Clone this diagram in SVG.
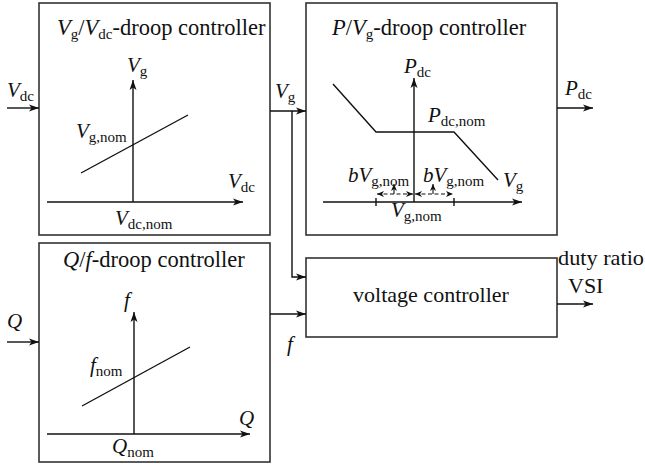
<svg xmlns="http://www.w3.org/2000/svg" width="645" height="468" viewBox="0 0 645 468">
<defs>
<style>
.box{fill:#fff;stroke:#333;stroke-width:1.6}
.ln{fill:none;stroke:#111;stroke-width:1.4}
.ax{fill:none;stroke:#111;stroke-width:1.4;marker-end:url(#arr)}
.da{fill:none;stroke:#111;stroke-width:1.2;stroke-dasharray:4 2.5;marker-end:url(#sa);marker-start:url(#sa)}
.ua{fill:none;stroke:#111;stroke-width:1.1;marker-end:url(#sa)}
text,tspan{font-family:"Liberation Serif","DejaVu Serif",serif;fill:#111}
.m{font-size:21px}
.i{font-style:italic}
.s{font-size:15px}
.tt{font-size:22.5px}
.vc{font-size:22px}
</style>
<marker id="arr" markerUnits="userSpaceOnUse" markerWidth="10" markerHeight="8" refX="10" refY="4" orient="auto-start-reverse">
<path d="M0,0.5 L10,4 L0,7.5 L2.5,4 z" fill="#111"/>
</marker>
<marker id="sa" markerUnits="userSpaceOnUse" markerWidth="7" markerHeight="6" refX="7" refY="3" orient="auto-start-reverse">
<path d="M0,0 L7,3 L0,6 L2,3 z" fill="#111"/>
</marker>
</defs>

<g id="node-vg-vdc">
<rect class="box" x="39" y="3" width="231" height="232"/>
<text class="tt" x="57" y="35"><tspan class="i">V</tspan><tspan class="s" dy="4">g</tspan><tspan dy="-4">/</tspan><tspan class="i">V</tspan><tspan class="s" dy="4">dc</tspan><tspan dy="-4">-droop controller</tspan></text>
<line class="ax" x1="133" y1="202" x2="133" y2="80"/>
<line class="ax" x1="47" y1="202" x2="243" y2="202"/>
<line class="ln" x1="81" y1="173" x2="188" y2="115"/>
<text class="m" x="127" y="72"><tspan class="i">V</tspan><tspan class="s" dy="4">g</tspan></text>
<text class="m" x="76" y="138"><tspan class="i">V</tspan><tspan class="s" dy="4">g,nom</tspan></text>
<text class="m" x="228" y="188"><tspan class="i">V</tspan><tspan class="s" dy="4">dc</tspan></text>
<text class="m" x="115" y="225"><tspan class="i">V</tspan><tspan class="s" dy="4">dc,nom</tspan></text>
</g>

<g id="node-p-vg">
<rect class="box" x="306" y="3" width="251" height="232"/>
<text class="tt" x="332" y="35"><tspan class="i">P</tspan><tspan>/</tspan><tspan class="i">V</tspan><tspan class="s" dy="4">g</tspan><tspan dy="-4">-droop controller</tspan></text>
<line class="ax" x1="414" y1="202" x2="414" y2="78"/>
<line class="ax" x1="323" y1="202" x2="522" y2="202"/>
<polyline class="ln" points="333,84 376,132 454,132 498,180"/>
<line class="ln" x1="376" y1="198" x2="376" y2="206"/>
<line class="ln" x1="454" y1="198" x2="454" y2="206"/>
<line class="da" x1="377" y1="194" x2="413" y2="194"/>
<line class="da" x1="415" y1="194" x2="453" y2="194"/>
<line class="ua" x1="394" y1="194" x2="394" y2="184"/>
<line class="ua" x1="433" y1="194" x2="433" y2="184"/>
<text class="m" x="404" y="73"><tspan class="i">P</tspan><tspan class="s" dy="4">dc</tspan></text>
<text class="m" x="428" y="122"><tspan class="i">P</tspan><tspan class="s" dy="4">dc,nom</tspan></text>
<text class="m" x="503" y="187"><tspan class="i">V</tspan><tspan class="s" dy="4">g</tspan></text>
<text class="m" x="348" y="182"><tspan class="i">bV</tspan><tspan class="s" dy="4">g,nom</tspan></text>
<text class="m" x="423" y="182"><tspan class="i">bV</tspan><tspan class="s" dy="4">g,nom</tspan></text>
<text class="m" x="391" y="217"><tspan class="i">V</tspan><tspan class="s" dy="4">g,nom</tspan></text>
</g>

<g id="node-q-f">
<rect class="box" x="39" y="243" width="231" height="219"/>
<text class="tt" x="63" y="267"><tspan class="i">Q</tspan><tspan>/</tspan><tspan class="i">f</tspan><tspan>-droop controller</tspan></text>
<line class="ax" x1="134" y1="434" x2="134" y2="312"/>
<line class="ax" x1="47" y1="434" x2="250" y2="434"/>
<line class="ln" x1="82" y1="406" x2="190" y2="347"/>
<text class="m i" x="124" y="307">f</text>
<text class="m" x="90" y="372"><tspan class="i">f</tspan><tspan class="s" dy="4">nom</tspan></text>
<text class="m i" x="239" y="425">Q</text>
<text class="m" x="112" y="453"><tspan class="i">Q</tspan><tspan class="s" dy="4">nom</tspan></text>
</g>

<g id="node-voltage">
<rect class="box" x="306" y="258" width="251" height="79"/>
<text class="vc" x="431" y="302" text-anchor="middle">voltage controller</text>
</g>

<g id="connectors">
<line class="ax" x1="7" y1="108" x2="39" y2="108"/>
<line class="ax" x1="270" y1="111" x2="306" y2="111"/>
<polyline class="ax" points="292,111 292,277 306,277"/>
<line class="ax" x1="557" y1="108" x2="593" y2="108"/>
<line class="ax" x1="7" y1="342" x2="39" y2="342"/>
<line class="ax" x1="270" y1="314" x2="306" y2="314"/>
<line class="ax" x1="557" y1="304" x2="593" y2="304"/>
<text class="m" x="7" y="97"><tspan class="i">V</tspan><tspan class="s" dy="4">dc</tspan></text>
<text class="m" x="275" y="98"><tspan class="i">V</tspan><tspan class="s" dy="4">g</tspan></text>
<text class="m" x="565" y="95"><tspan class="i">P</tspan><tspan class="s" dy="4">dc</tspan></text>
<text class="m i" x="7" y="328">Q</text>
<text class="m i" x="287" y="351">f</text>
<text class="vc" x="558" y="265" textLength="86" lengthAdjust="spacingAndGlyphs">duty ratio</text>
<text class="vc" x="568" y="293">VSI</text>
</g>
</svg>
